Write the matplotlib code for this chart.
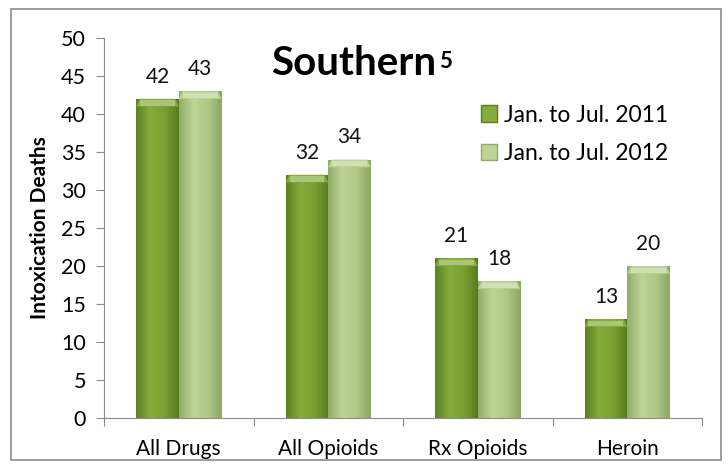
import numpy as np
import matplotlib.pyplot as plt
from matplotlib.patches import Rectangle, Polygon, Patch
from matplotlib.colors import LinearSegmentedColormap

plt.rcParams['font.family'] = ['Lato', 'DejaVu Sans']

categorias = ['All Drugs', 'All Opioids', 'Rx Opioids', 'Heroin']
series = ['Jan. to Jul. 2011', 'Jan. to Jul. 2012']
mortes_2011 = [42, 32, 21, 13]
mortes_2012 = [43, 34, 18, 20]

# cores das barras: borda escura, centro claro
cores = [
    ['#5c7f22', '#86ac3c', '#7aa033', '#587a20'],
    ['#92ab6a', '#bdd496', '#b0c985', '#8ca664'],
]


def barra_gradiente(ax, barra, paleta):
    x, y = barra.get_x(), barra.get_y()
    w, h = barra.get_width(), barra.get_height()
    cmap = LinearSegmentedColormap.from_list('g', paleta)
    grad = np.linspace(0, 1, 256).reshape(1, -1)
    img = ax.imshow(grad, cmap=cmap, aspect='auto', extent=(x, x + w, y, y + h),
                    zorder=2, interpolation='bicubic')
    img.set_clip_path(barra)
    barra.set_facecolor('none')
    # chanfro no topo da barra
    b = 1.0
    dx = w * 0.09
    topo = Polygon([(x, y + h - b), (x + dx, y + h), (x + w - dx, y + h), (x + w, y + h - b)],
                   closed=True, facecolor=paleta[1], edgecolor='none', zorder=3)
    ax.add_patch(topo)
    brilho = Rectangle((x + dx, y + h - b * 0.9), w - 2 * dx, b * 0.7, facecolor='white',
                       alpha=0.3, edgecolor='none', zorder=3)
    ax.add_patch(brilho)


fig = plt.figure(figsize=(7.28, 4.66), dpi=100)
ax = fig.add_axes([0.1429, 0.103, 0.8214, 0.8155])

x = np.arange(len(categorias))
largura = 0.285
b1 = ax.bar(x - largura / 2, mortes_2011, largura, zorder=2, label=series[0])
b2 = ax.bar(x + largura / 2, mortes_2012, largura, zorder=2, label=series[1])

for barra in b1:
    barra_gradiente(ax, barra, cores[0])
for barra in b2:
    barra_gradiente(ax, barra, cores[1])

for barras, valores in ((b1, mortes_2011), (b2, mortes_2012)):
    for barra, v in zip(barras, valores):
        ax.text(barra.get_x() + barra.get_width() / 2, v + 1.6, str(v),
                ha='center', va='bottom', fontsize=15, color='#111111')

ax.set_xlim(-0.5, len(categorias) - 0.5)
ax.set_ylim(0, 50)
ax.set_yticks(range(0, 51, 5))
ax.set_xticks(np.arange(-0.5, len(categorias), 1))
ax.set_xticklabels([])
ax.set_xticks(x, minor=True)
ax.set_xticklabels(categorias, minor=True)
ax.tick_params(axis='x', which='minor', length=0, labelsize=15, pad=15)
ax.tick_params(axis='x', which='major', length=6, color='#8c8c8c', direction='out')
ax.tick_params(axis='y', length=6, color='#8c8c8c', labelsize=15.5, pad=7)
for lado in ('top', 'right'):
    ax.spines[lado].set_visible(False)
for lado in ('left', 'bottom'):
    ax.spines[lado].set_color('#8c8c8c')
ax.set_ylabel('Intoxication Deaths', fontsize=15, fontweight='bold', labelpad=8)

# titulo com sobrescrito
titulo = fig.text(0.373, 0.839, 'Southern', fontsize=29, fontweight='bold', va='baseline')
ax.annotate('5', xy=(1, 1), xycoords=titulo, xytext=(2, -4), textcoords='offset points',
            fontsize=16, fontweight='bold', ha='left', va='top')

# legenda
alca = [Patch(facecolor=cores[0][1], edgecolor=cores[0][0]),
        Patch(facecolor=cores[1][1], edgecolor=cores[1][0])]
fig.legend(alca, series, loc='upper left', bbox_to_anchor=(0.633, 0.82), frameon=False,
           fontsize=16.5, handlelength=0.7, handleheight=0.7, handletextpad=0.3,
           labelspacing=0.75)

# moldura externa
fig.patches.append(Rectangle((0.015, 0.012), 0.975, 0.968, transform=fig.transFigure,
                             fill=False, edgecolor='#8c8c8c', linewidth=1.2))

fig.savefig('out.png', dpi=100)
